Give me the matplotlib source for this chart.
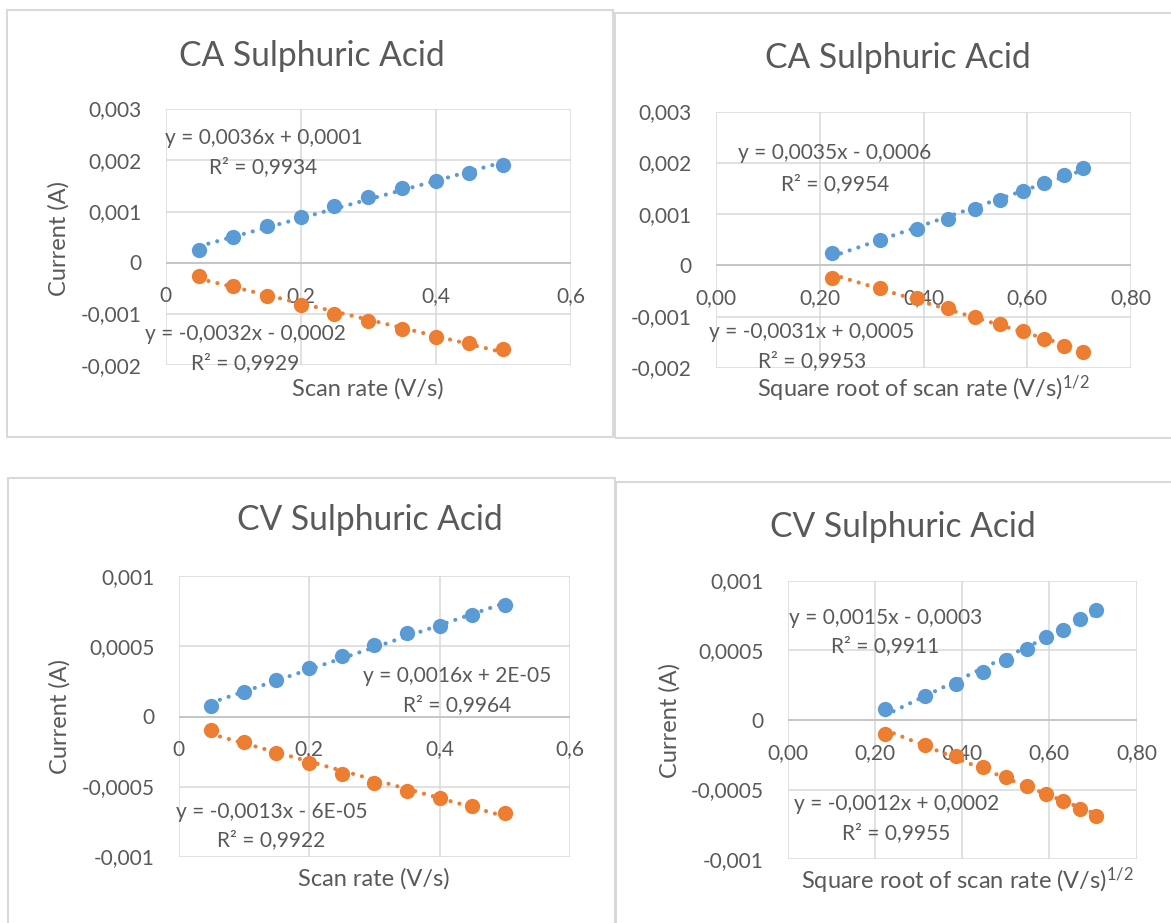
import numpy as np
import matplotlib
matplotlib.use("Agg")
import matplotlib.pyplot as plt
from matplotlib.patches import Rectangle
from matplotlib.transforms import offset_copy

plt.rcParams['font.family'] = ['Lato', 'DejaVu Sans']
plt.rcParams['mathtext.fontset'] = 'custom'
plt.rcParams['mathtext.rm'] = 'Lato'
plt.rcParams['mathtext.it'] = 'Lato:italic'

# ---------------- data ----------------
scan_rate = [0.05, 0.10, 0.15, 0.20, 0.25, 0.30, 0.35, 0.40, 0.45, 0.50]
sqrt_scan_rate = [0.224, 0.316, 0.387, 0.447, 0.500, 0.548, 0.592, 0.632, 0.671, 0.707]

ca_anodic = [0.00024, 0.00050, 0.00071, 0.00090, 0.00110, 0.00128,
             0.00145, 0.00160, 0.00176, 0.00190]
ca_cathodic = [-0.00025, -0.00045, -0.00064, -0.00083, -0.00100, -0.00114,
               -0.00129, -0.00144, -0.00157, -0.00169]

cv_anodic = [0.000078, 0.000172, 0.000258, 0.000344, 0.000428, 0.000507,
             0.000593, 0.000646, 0.000722, 0.000792]
cv_cathodic = [-0.000098, -0.000182, -0.000258, -0.000335, -0.000407,
               -0.000471, -0.000531, -0.000581, -0.000639, -0.000687]

ca_yticks = [-0.002, -0.001, 0.0, 0.001, 0.002, 0.003]
ca_ytick_labels = ["-0,002", "-0,001", "0", "0,001", "0,002", "0,003"]
cv_yticks = [-0.001, -0.0005, 0.0, 0.0005, 0.001]
cv_ytick_labels = ["-0,001", "-0,0005", "0", "0,0005", "0,001"]
rate_xticks = [0.0, 0.2, 0.4, 0.6]
rate_xtick_labels = ["0", "0,2", "0,4", "0,6"]
sqrt_xticks = [0.0, 0.2, 0.4, 0.6, 0.8]
sqrt_xtick_labels = ["0,00", "0,20", "0,40", "0,60", "0,80"]

titles = ["CA Sulphuric Acid", "CA Sulphuric Acid",
          "CV Sulphuric Acid", "CV Sulphuric Acid"]
xlabel_rate = "Scan rate (V/s)"
xlabel_sqrt = r"Square root of scan rate (V/s)$^{\mathregular{1/2}}$"
ylabel = "Current (A)"

eq_anodic = [("y = 0,0036x + 0,0001", "R² = 0,9934"),
             ("y = 0,0035x - 0,0006", "R² = 0,9954"),
             ("y = 0,0016x + 2E-05", "R² = 0,9964"),
             ("y = 0,0015x - 0,0003", "R² = 0,9911")]
eq_cathodic = [("y = -0,0032x - 0,0002", "R² = 0,9929"),
               ("y = -0,0031x + 0,0005", "R² = 0,9953"),
               ("y = -0,0013x - 6E-05", "R² = 0,9922"),
               ("y = -0,0012x + 0,0002", "R² = 0,9955")]

# ---------------- style ----------------
BLUE = "#5B9BD5"
ORANGE = "#ED7D31"
TEXT = "#595959"
GRID = "#D9D9D9"
AXIS = "#BFBFBF"
FS_TICK = 15
FS_EQ = 15
FS_AXLABEL = 17
FS_TITLE = 24.2
MS = 11

W, H = 1171, 923
fig = plt.figure(figsize=(W / 100, H / 100), dpi=100)
fig.patch.set_facecolor("white")


def fx(px):
    return px / W


def fy(py):
    return 1 - py / H


def frame(x0, y0, x1, y1):
    fig.add_artist(Rectangle((fx(x0), fy(y1)), (x1 - x0) / W, (y1 - y0) / H,
                             transform=fig.transFigure, fill=False,
                             edgecolor=GRID, linewidth=1.5))


def trend(ax, x, y, color):
    k, b = np.polyfit(x, y, 1)
    xs = np.array([min(x), max(x)])
    ax.plot(xs, k * xs + b, color=color, lw=3.0, dashes=(0.01, 2.2),
            dash_capstyle="round", zorder=3, clip_on=False)


def panel(box, x, up, down, xticks, xlabels, yticks, ylabels, title, title_pos,
          xlabel, xlabel_pos, ylabel_pos, eq_up, eq_up_pos, eq_down, eq_down_pos):
    x0, y0, x1, y1 = box
    ax = fig.add_axes([fx(x0), fy(y1), (x1 - x0) / W, (y1 - y0) / H])
    ax.set_xlim(xticks[0], xticks[-1])
    ax.set_ylim(yticks[0], yticks[-1])
    ax.set_xticks(xticks)
    ax.set_yticks(yticks)
    ax.tick_params(length=0, labelbottom=False, labelleft=False)
    ax.grid(True, color=GRID, lw=1.1)
    ax.set_axisbelow(True)
    for s in ax.spines.values():
        s.set_visible(False)
    ax.axhline(0, color=AXIS, lw=1.1, zorder=1.5)

    ytr = offset_copy(ax.transData, fig=fig, x=-24, y=-7.5, units="dots")
    for v, s in zip(yticks, ylabels):
        ax.text(xticks[0], v, s, transform=ytr, ha="right", va="baseline",
                fontsize=FS_TICK, color=TEXT, zorder=1)
    xtr = offset_copy(ax.transData, fig=fig, x=0, y=-39, units="dots")
    for v, s in zip(xticks, xlabels):
        ax.text(v, 0, s, transform=xtr, ha="center", va="baseline",
                fontsize=FS_TICK, color=TEXT, zorder=1)

    trend(ax, x, up, BLUE)
    trend(ax, x, down, ORANGE)
    ax.plot(x, up, "o", color=BLUE, ms=MS, mew=0, zorder=4, clip_on=False)
    ax.plot(x, down, "o", color=ORANGE, ms=MS, mew=0, zorder=4, clip_on=False)

    for (line1, line2), (cx, b1, b2) in ((eq_up, eq_up_pos), (eq_down, eq_down_pos)):
        fig.text(fx(cx), fy(b1), line1, ha="center", va="baseline",
                 fontsize=FS_EQ, color=TEXT, zorder=5)
        fig.text(fx(cx), fy(b2), line2, ha="center", va="baseline",
                 fontsize=FS_EQ, color=TEXT, zorder=5)

    fig.text(fx(title_pos[0]), fy(title_pos[1]), title, ha="center",
             va="baseline", fontsize=FS_TITLE, color=TEXT)
    fig.text(fx(xlabel_pos[0]), fy(xlabel_pos[1]), xlabel, ha="center",
             va="baseline", fontsize=FS_AXLABEL, color=TEXT)
    if ylabel_pos is not None:
        fig.text(fx(ylabel_pos[0]), fy(ylabel_pos[1]), ylabel, ha="center",
                 va="center", rotation=90, fontsize=FS_AXLABEL, color=TEXT)
    return ax


# chart frames
frame(7.3, 10, 613.3, 436.7)
frame(614.5, 12.7, 1185, 438.3)
frame(7.9, 478.3, 614.5, 940)
frame(616.4, 481.7, 1185, 940)

# chronoamperometry vs scan rate
panel((165.7, 109, 570.7, 365.3), scan_rate, ca_anodic, ca_cathodic,
      rate_xticks, rate_xtick_labels, ca_yticks, ca_ytick_labels,
      titles[0], (311.5, 65.7), xlabel_rate, (368, 395.5), (58.6, 238.5),
      eq_anodic[0], (263.5, 144.5, 173.2), eq_cathodic[0], (245, 340.5, 369.5))

# chronoamperometry vs square root of scan rate
panel((716, 111.7, 1131, 367.7), sqrt_scan_rate, ca_anodic, ca_cathodic,
      sqrt_xticks, sqrt_xtick_labels, ca_yticks, ca_ytick_labels,
      titles[1], (897.7, 68), xlabel_sqrt, (923, 396.5), None,
      eq_anodic[1], (835, 159.2, 189.8), eq_cathodic[1], (811.7, 338.5, 366.8))

# cyclic voltammetry vs scan rate
panel((178.5, 576.3, 570.2, 856.7), scan_rate, cv_anodic, cv_cathodic,
      rate_xticks, rate_xtick_labels, cv_yticks, cv_ytick_labels,
      titles[2], (369.9, 530), xlabel_rate, (373.9, 885.5), (59.7, 716.7),
      eq_anodic[2], (457.3, 682.5, 710.8), eq_cathodic[2], (271.6, 818.2, 846.5))

# cyclic voltammetry vs square root of scan rate
panel((787.5, 580.7, 1136.5, 859.3), sqrt_scan_rate, cv_anodic, cv_cathodic,
      sqrt_xticks, sqrt_xtick_labels, cv_yticks, cv_ytick_labels,
      titles[3], (902.6, 536.7), xlabel_sqrt, (967.4, 888.5), (670, 720.8),
      eq_anodic[3], (885.5, 624.2, 652.5), eq_cathodic[3], (896.6, 810.2, 839.2))

fig.savefig("out.png", dpi=100, facecolor="white")
